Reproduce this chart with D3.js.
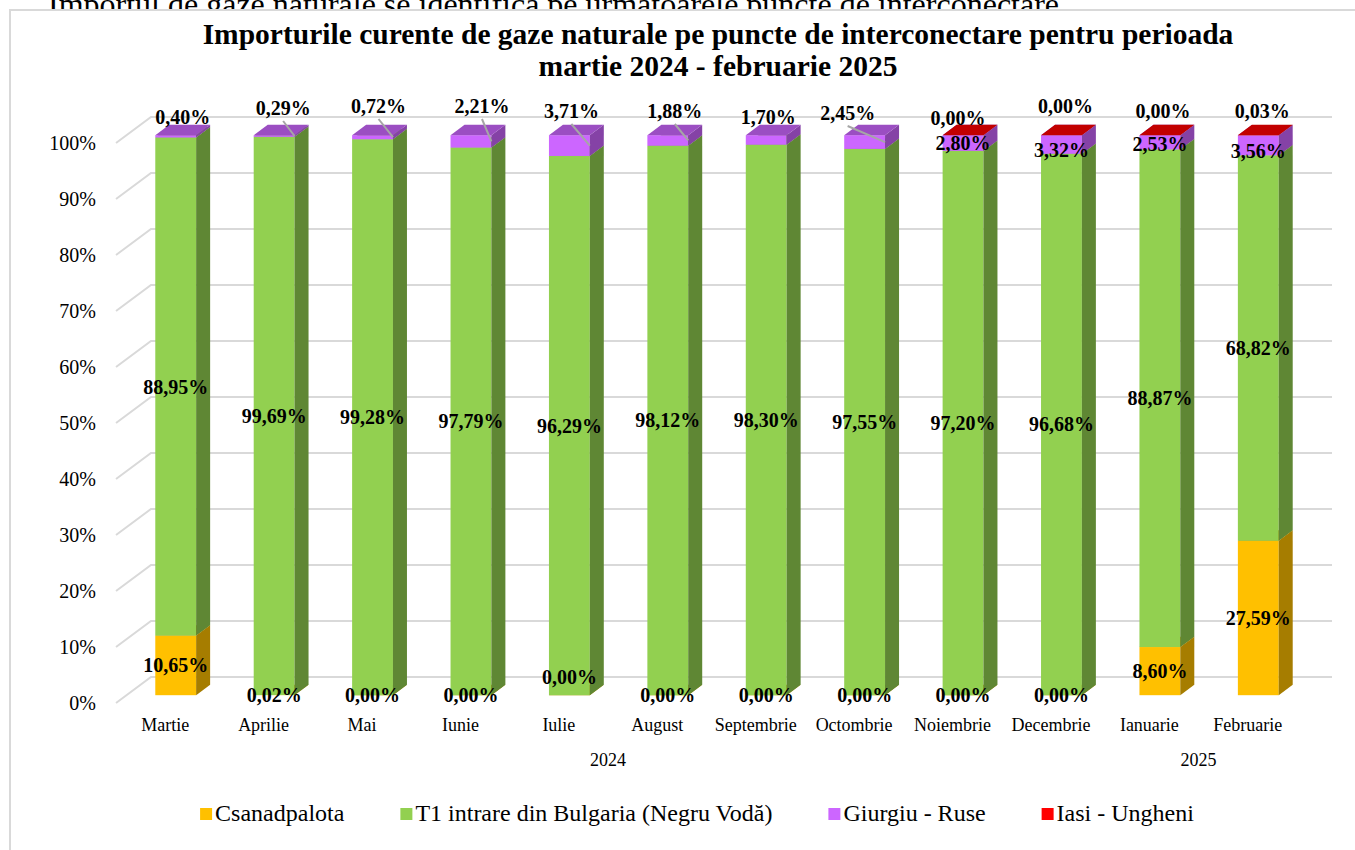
<!DOCTYPE html>
<html>
<head>
<meta charset="utf-8">
<script src="https://cdn.jsdelivr.net/npm/d3@7"></script>
<style>
  body { margin: 0; background: #fff; }
  text { font-family: "Times New Roman", "Liberation Serif", serif; }
</style>
</head>
<body>
<svg id="chart_svg"></svg>
<script>
var viewWidth = 1355;
var viewHeight = 850;

// data
var months = ["Martie", "Aprilie", "Mai", "Iunie", "Iulie", "August", "Septembrie",
  "Octombrie", "Noiembrie", "Decembrie", "Ianuarie", "Februarie"];
var years = [{label: "2024", first: 0, last: 9}, {label: "2025", first: 10, last: 11}];
var csanadpalota = [10.65, 0.02, 0, 0, 0, 0, 0, 0, 0, 0, 8.60, 27.59];
var negruVoda = [88.95, 99.69, 99.28, 97.79, 96.29, 98.12, 98.30, 97.55, 97.20, 96.68, 88.87, 68.82];
var giurgiuRuse = [0.40, 0.29, 0.72, 2.21, 3.71, 1.88, 1.70, 2.45, 2.80, 3.32, 2.53, 3.56];
var iasiUngheni = [null, null, null, null, null, null, null, null, 0, 0, 0, 0.03];
var seriesNames = ["Csanadpalota", "T1 intrare din Bulgaria (Negru Vodă)", "Giurgiu - Ruse", "Iasi - Ungheni"];
var seriesColors = ["#FFC000", "#92D050", "#CC66FF", "#FF0000"];
var yTicks = d3.range(0, 101, 10);

// callout labels above the bars (moved by hand in the original): dx, dy, leader line
var calloutLayout = [[7, 6, false], [9, -3, true], [6, -5, true], [11, -5, true], [2, 0, true],
  [7, 0, true], [2, 6, false], [-17, 2, true], [-5, 7, false], [4, -5, false], [3, 0, false], [4, 0, false]];
// small vertical shifts of the Giurgiu labels sitting inside the last bars
var innerNudge = [0, 0, 0, 0, 0, 0, 0, 0, 0, 6, 2, 6];

var series = [csanadpalota, negruVoda, giurgiuRuse, iasiUngheni];

var svg = d3.select("#chart_svg")
    .attr("width", viewWidth)
    .attr("height", viewHeight);

// document text behind the chart object
svg.append("text")
    .attr("x", 48)
    .attr("y", 15)
    .style("font-size", "32px")
    .text("Importul de gaze naturale se identifică pe următoarele puncte de interconectare.");

svg.append("rect")
    .attr("x", 10)
    .attr("y", 10)
    .attr("width", viewWidth + 20)
    .attr("height", viewHeight + 20)
    .style("fill", "#fff")
    .style("stroke", "#D9D9D9")
    .style("stroke-width", 2);

svg.append("text")
    .attr("x", 718)
    .attr("y", 44)
    .attr("text-anchor", "middle")
    .style("font-size", "29.5px")
    .style("font-weight", "bold")
    .text("Importurile curente de gaze naturale pe puncte de interconectare pentru perioada");
svg.append("text")
    .attr("x", 718)
    .attr("y", 76)
    .attr("text-anchor", "middle")
    .style("font-size", "29.5px")
    .style("font-weight", "bold")
    .text("martie 2024 - februarie 2025");

// 3d projection: depth vector from the front axis plane to the back wall
var depth = {dx: 35, dy: -26};
var barFront = 0.3, barBack = 0.7;

var x = d3.scaleBand()
    .domain(months)
    .range([116, 1297]);
var y = d3.scaleLinear()
    .domain([0, 100])
    .range([703, 143]);
var barWidth = x.bandwidth() * 0.415;

// walls / gridlines
var grid = svg.append("g").attr("class", "grid");
grid.selectAll("path")
    .data(yTicks)
  .enter().append("path")
    .attr("d", function(d) {
      var y0 = y(d);
      return "M" + x.range()[0] + "," + y0 +
        "L" + (x.range()[0] + depth.dx) + "," + (y0 + depth.dy) +
        "L" + (x.range()[1] + depth.dx) + "," + (y0 + depth.dy);
    })
    .style("fill", "none")
    .style("stroke", "#D9D9D9")
    .style("stroke-width", 2);

svg.append("g").selectAll("text")
    .data(yTicks)
  .enter().append("text")
    .attr("x", 96)
    .attr("y", function(d) { return y(d); })
    .attr("dy", "0.35em")
    .attr("text-anchor", "end")
    .style("font-size", "20px")
    .style("fill", "#000")
    .text(function(d) { return d + "%"; });

// stacked segments
var ox = depth.dx * barFront, oy = depth.dy * barFront;
var ddx = depth.dx * (barBack - barFront), ddy = depth.dy * (barBack - barFront);

function shade(c, k) {
  var r = d3.rgb(c);
  return d3.rgb(r.r * k, r.g * k, r.b * k).toString();
}

var segments = [];
months.forEach(function(m, i) {
  var acc = 0;
  series.forEach(function(s, j) {
    if (s[i] === null) return;
    segments.push({month: m, i: i, s: j, v: s[i], y0: acc, y1: acc + s[i]});
    acc += s[i];
  });
});

var bars = svg.append("g").attr("class", "bars");
segments.forEach(function(d) {
  var xl = x(d.month) + x.bandwidth() / 2 - barWidth / 2 + ox;
  var xr = xl + barWidth;
  var yb = y(d.y0) + oy, yt = y(d.y1) + oy;
  var c = seriesColors[d.s];
  bars.append("rect")
      .attr("x", xl).attr("y", yt)
      .attr("width", barWidth).attr("height", Math.max(0, yb - yt))
      .style("fill", c);
  bars.append("path")
      .attr("d", "M" + xr + "," + yt + "L" + (xr + ddx) + "," + (yt + ddy) +
        "L" + (xr + ddx) + "," + (yb + ddy) + "L" + xr + "," + yb + "Z")
      .style("fill", shade(c, 0.65));
  bars.append("path")
      .attr("d", "M" + xl + "," + yt + "L" + (xl + ddx) + "," + (yt + ddy) +
        "L" + (xr + ddx) + "," + (yt + ddy) + "L" + xr + "," + yt + "Z")
      .style("fill", shade(c, 0.76));
});

// value labels
var fmt = function(v) { return d3.format(".2f")(v).replace(".", ",") + "%"; };
var labels = svg.append("g").attr("class", "labels");
segments.forEach(function(d) {
  var cx = x(d.month) + x.bandwidth() / 2 + ox;
  var cy = y((d.y0 + d.y1) / 2) + oy;
  var last = (d.s === 3) || (d.s === 2 && iasiUngheni[d.i] === null);
  if (last) {
    var lay = calloutLayout[d.i];
    var lx = cx + lay[0], ly = 111 + lay[1];
    if (lay[2]) {
      var ex = lx < cx - barWidth / 2 ? cx - barWidth / 2 : cx + barWidth / 2;
      labels.append("line")
          .attr("x1", lx).attr("y1", ly + 13)
          .attr("x2", ex).attr("y2", cy)
          .style("stroke", "#A6A6A6")
          .style("stroke-width", 2);
    }
    cx = lx; cy = ly;
  } else if (d.s === 2) {
    cy += innerNudge[d.i];
  }
  if (d.s === 0 && d.i === 4) cy -= 18;
  labels.append("text")
      .attr("x", cx)
      .attr("y", cy)
      .attr("dy", "0.35em")
      .attr("text-anchor", "middle")
      .style("font-size", "20px")
      .style("font-weight", "bold")
      .text(fmt(d.v));
});

// category axis
svg.append("g").selectAll("text")
    .data(months)
  .enter().append("text")
    .attr("x", function(d) { return x(d) + x.bandwidth() / 2; })
    .attr("y", 731)
    .attr("text-anchor", "middle")
    .style("font-size", "18px")
    .text(function(d) { return d; });

svg.append("g").selectAll("text")
    .data(years)
  .enter().append("text")
    .attr("x", function(d) {
      return (x(months[d.first]) + x(months[d.last])) / 2 + x.bandwidth() / 2;
    })
    .attr("y", 766)
    .attr("text-anchor", "middle")
    .style("font-size", "18px")
    .text(function(d) { return d.label; });

// legend
var legend = svg.append("g").attr("class", "legend");
var lx = 0;
seriesNames.forEach(function(name, j) {
  var item = legend.append("g").attr("transform", "translate(" + lx + ",0)");
  item.append("rect")
      .attr("x", 0).attr("y", 808)
      .attr("width", 12).attr("height", 12)
      .style("fill", seriesColors[j]);
  var t = item.append("text")
      .attr("x", 15)
      .attr("y", 821)
      .style("font-size", "24px")
      .text(name);
  lx += 15 + t.node().getComputedTextLength() + 56;
});
var legendWidth = lx - 56;
legend.attr("transform", "translate(" + (697 - legendWidth / 2) + ",0)");
</script>
</body>
</html>
